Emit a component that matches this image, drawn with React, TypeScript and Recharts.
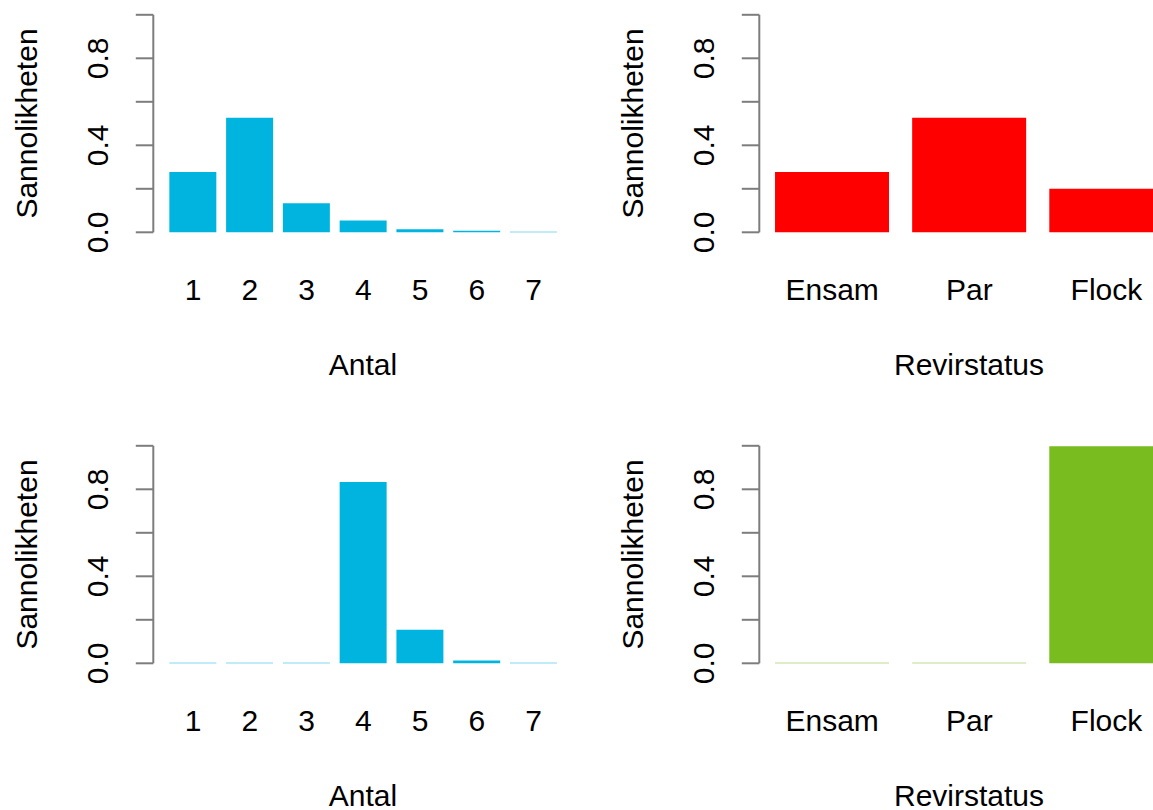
import { BarChart, Bar, XAxis, YAxis, Label } from "recharts";

// Sannolikheter per kategori, fyra paneler (övre/undre rad)
const antalKategorier = ["1", "2", "3", "4", "5", "6", "7"];
const antalOvre = [0.277, 0.527, 0.133, 0.054, 0.014, 0.007, 0.002];
const antalUndre = [0.002, 0.002, 0.002, 0.833, 0.154, 0.013, 0.002];

const revirKategorier = ["Ensam", "Par", "Flock"];
const revirOvre = [0.277, 0.527, 0.2];
const revirUndre = [0.002, 0.002, 0.998];

const yTicks = [0, 0.2, 0.4, 0.6, 0.8, 1];
const yTickLabels = [0, 0.4, 0.8];

const FONT = "'Liberation Sans', Arial, Helvetica, sans-serif";
const AXIS_GREY = "#7d7d7d";
const CYAN = "#00b4e0";
const RED = "#ff0000";
const GREEN = "#78bc20";

const PANEL_H = 431;
const PLOT_TOP = 14.8;
const PLOT_BOTTOM = 232.3;

const YTick = (props: any) => {
  const { y, payload } = props;
  const v = payload.value as number;
  if (!yTickLabels.some((l) => Math.abs(l - v) < 1e-9)) return <g />;
  const tx = 108;
  return (
    <text
      x={tx}
      y={y}
      transform={`rotate(-90 ${tx} ${y})`}
      textAnchor="middle"
      fontSize={30}
      fontFamily={FONT}
      fill="#000"
    >
      {v.toFixed(1)}
    </text>
  );
};

const XTick = (props: any) => {
  const { x, y, payload } = props;
  return (
    <text x={x} y={y + 67.7} textAnchor="middle" fontSize={30} fontFamily={FONT} fill="#000">
      {payload.value}
    </text>
  );
};

interface PanelProps {
  categories: string[];
  values: number[];
  color: string;
  xTitle: string;
  width: number;
  padLeft: number;
  left: number;
  top: number;
}

function Panel({ categories, values, color, xTitle, width, padLeft, left, top }: PanelProps) {
  const data = categories.map((k, i) => ({ k, p: values[i] }));
  return (
    <div style={{ position: "absolute", left, top }}>
      <BarChart
        width={width}
        height={PANEL_H}
        data={data}
        margin={{ top: PLOT_TOP, right: 0, bottom: 0, left: 0 }}
        barCategoryGap="8.333%"
      >
        <XAxis
          dataKey="k"
          axisLine={false}
          tickLine={false}
          tickSize={0}
          tickMargin={0}
          interval={0}
          height={PANEL_H - PLOT_BOTTOM}
          padding={{ left: padLeft, right: 0 }}
          tick={<XTick />}
        >
          <Label
            content={() => (
              <text x={363} y={375} textAnchor="middle" fontSize={30} fontFamily={FONT} fill="#000">
                {xTitle}
              </text>
            )}
          />
        </XAxis>
        <YAxis
          type="number"
          domain={[0, 1]}
          ticks={yTicks}
          width={153.3}
          tickSize={17.5}
          tickMargin={0}
          axisLine={{ stroke: AXIS_GREY, strokeWidth: 2 }}
          tickLine={{ stroke: AXIS_GREY, strokeWidth: 2 }}
          tick={<YTick />}
        >
          <Label
            content={() => (
              <text
                x={36.7}
                y={123.5}
                transform="rotate(-90 36.7 123.5)"
                textAnchor="middle"
                fontSize={30}
                fontFamily={FONT}
                fill="#000"
              >
                Sannolikheten
              </text>
            )}
          />
        </YAxis>
        <Bar dataKey="p" fill={color} isAnimationActive={false} />
      </BarChart>
    </div>
  );
}

export default function App() {
  return (
    <div
      style={{
        position: "absolute",
        left: 0,
        top: 0,
        width: 1153,
        height: 810,
        overflow: "hidden",
        background: "#fff",
      }}
    >
      <Panel categories={antalKategorier} values={antalOvre} color={CYAN} xTitle="Antal" width={562} padLeft={11.3} left={0} top={0} />
      <Panel categories={revirKategorier} values={revirOvre} color={RED} xTitle="Revirstatus" width={569} padLeft={4.3} left={606} top={0} />
      <Panel categories={antalKategorier} values={antalUndre} color={CYAN} xTitle="Antal" width={562} padLeft={11.3} left={0} top={431} />
      <Panel categories={revirKategorier} values={revirUndre} color={GREEN} xTitle="Revirstatus" width={569} padLeft={4.3} left={606} top={431} />
    </div>
  );
}
